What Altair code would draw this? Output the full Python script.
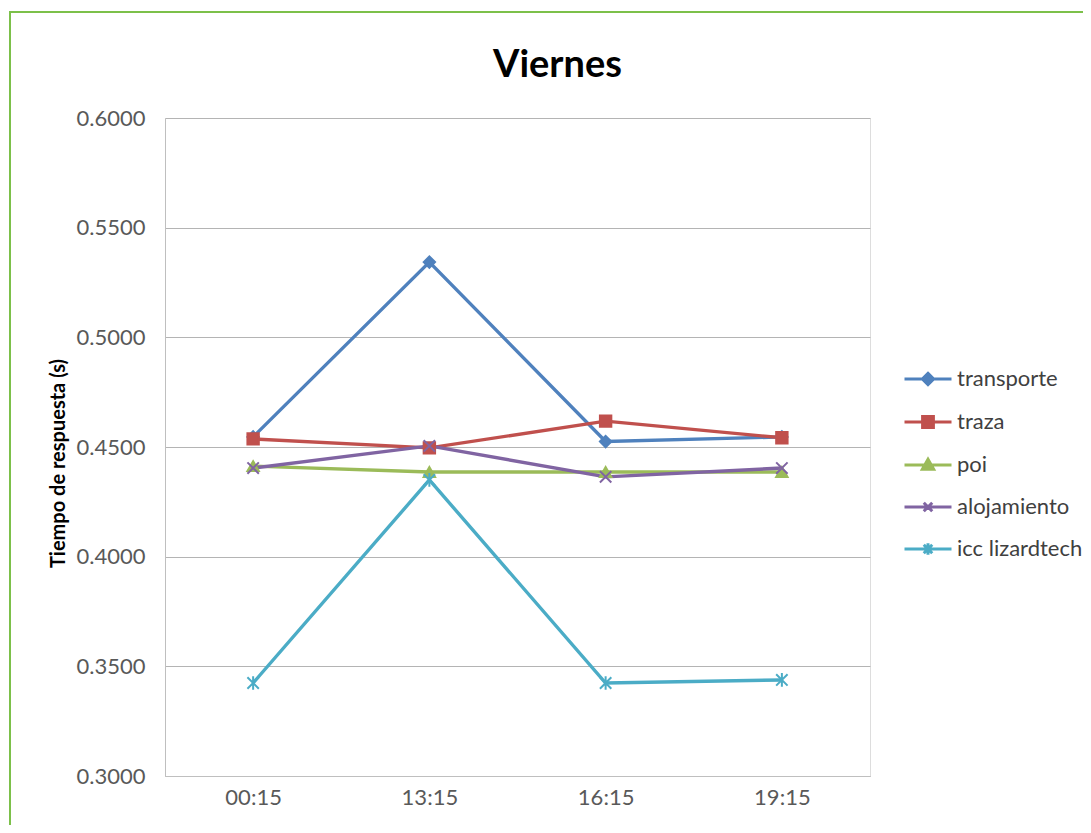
import altair as alt
import pandas as pd

times = ["00:15", "13:15", "16:15", "19:15"]
series = ["transporte", "traza", "poi", "alojamiento", "icc lizardtech"]
transporte = [0.4546, 0.5343, 0.4525, 0.4546]
traza = [0.4537, 0.4496, 0.4618, 0.4542]
poi = [0.4413, 0.4386, 0.4386, 0.4386]
alojamiento = [0.4404, 0.4505, 0.4364, 0.4404]
icc = [0.3424, 0.4350, 0.3424, 0.3438]

colors = ["#4F81BD", "#C0504D", "#9BBB59", "#8064A2", "#4BACC6"]
shapes = [
    "diamond",
    "square",
    "triangle-up",
    "M-1,-1L1,1M1,-1L-1,1",
    "M-1,-1L1,1M1,-1L-1,1M0,-1.2L0,1.2",
]
# legend glyphs: a line with the marker in the middle
legend_shapes = [
    "M-1,0L1,0M0,-0.24L0.24,0L0,0.24L-0.24,0Z",
    "M-1,0L1,0M-0.23,-0.23L0.23,-0.23L0.23,0.23L-0.23,0.23Z",
    "M-1,0L1,0M0,-0.24L0.24,0.18L-0.24,0.18Z",
    "M-1,0L1,0M-0.18,-0.18L0.18,0.18M0.18,-0.18L-0.18,0.18",
    "M-1,0L1,0M-0.18,-0.18L0.18,0.18M0.18,-0.18L-0.18,0.18M0,-0.24L0,0.24",
]

rows = []
for name, vals in zip(series, [transporte, traza, poi, alojamiento, icc]):
    for t, v in zip(times, vals):
        rows.append({"time": t, "value": v, "series": name,
                     "series2": name, "series3": name})
df = pd.DataFrame(rows)

FONT = "Lato"

x = alt.X("time:N", sort=times, title=None,
          axis=alt.Axis(labelAngle=0, labelFontSize=22, labelColor="#595959",
                        labelFont=FONT, labelPadding=11, ticks=False,
                        domainColor="#BFBFBF", grid=False))
y = alt.Y("value:Q", title="Tiempo de respuesta (s)",
          scale=alt.Scale(domain=[0.3, 0.6], nice=False, zero=False),
          axis=alt.Axis(values=[0.3, 0.35, 0.4, 0.45, 0.5, 0.55, 0.6],
                        format=".4f", labelFontSize=22, labelColor="#595959",
                        labelFont=FONT, labelPadding=20, ticks=False,
                        domainColor="#BFBFBF", gridColor="#B4B4B4",
                        titleFont=FONT, titleFontSize=20, titleFontWeight="bold",
                        titleColor="#000000", titlePadding=8, titleY=345))

lines = alt.Chart(df).mark_line(strokeWidth=3.4).encode(
    x=x, y=y,
    color=alt.Color("series:N",
                    scale=alt.Scale(domain=series, range=colors), legend=None),
    detail="series:N",
)

pts = alt.Chart(df).mark_point(filled=True, size=130, strokeWidth=2, opacity=1).encode(
    x=x, y=y,
    fill=alt.Fill("series2:N", scale=alt.Scale(domain=series, range=colors), legend=None),
    stroke=alt.Stroke("series2:N", scale=alt.Scale(domain=series, range=colors), legend=None),
    shape=alt.Shape("series2:N", scale=alt.Scale(domain=series, range=shapes), legend=None),
)

leg = alt.Legend(title=None, orient="none", legendX=738, legendY=236, padding=0,
                 symbolSize=2209, symbolStrokeWidth=3, symbolOpacity=1,
                 rowPadding=6, labelFontSize=22, labelFont=FONT,
                 labelColor="#404040", labelOffset=4)

legend_layer = alt.Chart(df).mark_point(filled=True, opacity=0).encode(
    x=x, y=y,
    fill=alt.Fill("series3:N", scale=alt.Scale(domain=series, range=colors), legend=leg),
    stroke=alt.Stroke("series3:N", scale=alt.Scale(domain=series, range=colors), legend=leg),
    shape=alt.Shape("series3:N", scale=alt.Scale(domain=series, range=legend_shapes), legend=leg),
)

frame = alt.Chart(df).mark_rect(filled=False, stroke="#7CC04B", strokeWidth=1.5,
                                clip=False).encode(
    x=alt.value(-155), y=alt.value(-106), x2=alt.value(1200), y2=alt.value(1000)
)

chart = alt.layer(frame, lines, pts, legend_layer).resolve_scale(
    fill="independent", stroke="independent", shape="independent"
).properties(
    width=705, height=658,
    title=alt.Title("Viernes", fontSize=38, font=FONT, fontWeight="bold",
                    color="#000000", anchor="middle", dx=40, offset=0, dy=74),
    autosize=alt.AutoSizeParams(type="none"),
    padding={"left": 157, "top": 110, "right": 213, "bottom": 49},
).configure_view(strokeOpacity=0).configure(background="white")

chart.save("out.html", embed_options={"renderer": "svg", "actions": False})
